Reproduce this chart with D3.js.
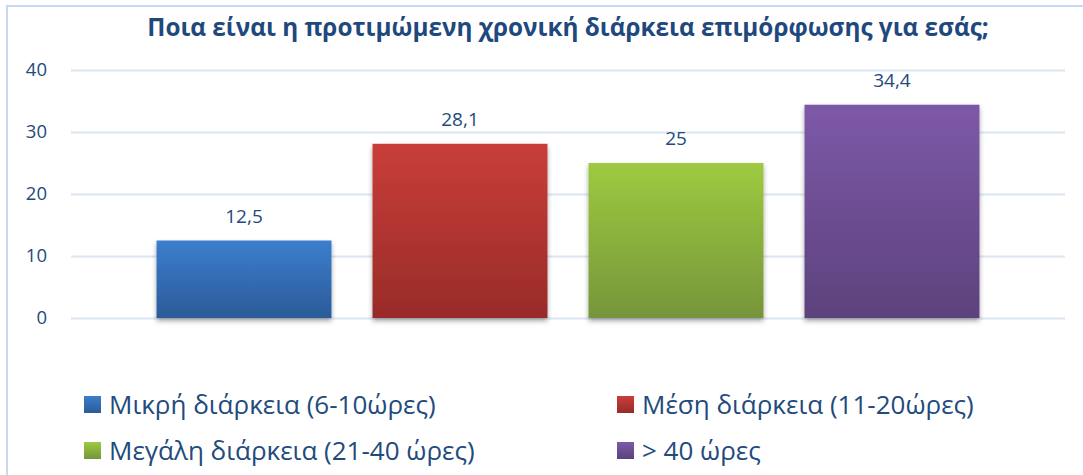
<!DOCTYPE html>
<html lang="el">
<head>
<meta charset="utf-8">
<title>bar chart</title>
<script src="https://cdn.jsdelivr.net/npm/d3@7/dist/d3.min.js"></script>
<style>
  html, body { margin: 0; padding: 0; background: #fff; }
  svg { display: block; font-family: "Open Sans", "Noto Sans", sans-serif; }
</style>
</head>
<body>
<script>
  var categories = ['Μικρή διάρκεια (6-10ώρες)', 'Μέση διάρκεια (11-20ώρες)', 'Μεγάλη διάρκεια (21-40 ώρες)', '> 40 ώρες'];
  var values = [12.5, 28.1, 25, 34.4];
  var yTicks = [0, 10, 20, 30, 40];
  var colorsTop = ['#3c7ecd', '#c93e3a', '#9dca40', '#7d59a8'];
  var colorsBottom = ['#2b5b98', '#982b28', '#76953a', '#5c427c'];
  var title = 'Ποια είναι η προτιμώμενη χρονική διάρκεια επιμόρφωσης για εσάς;';

  var width = 1083, height = 475;
  var textColor = '#234a7c';

  var svg = d3.select('body').append('svg')
    .attr('width', width)
    .attr('height', height);

  var defs = svg.append('defs');
  categories.forEach(function (c, i) {
    var g = defs.append('linearGradient')
      .attr('id', 'grad' + i)
      .attr('x1', 0).attr('y1', 0).attr('x2', 0).attr('y2', 1);
    g.append('stop').attr('offset', '0%').attr('stop-color', colorsTop[i]);
    g.append('stop').attr('offset', '100%').attr('stop-color', colorsBottom[i]);
  });
  var shadow = defs.append('filter').attr('id', 'shadow')
    .attr('x', '-10%').attr('y', '-10%').attr('width', '120%').attr('height', '130%');
  shadow.append('feDropShadow')
    .attr('dx', 0).attr('dy', 3).attr('stdDeviation', 2.5)
    .attr('flood-color', '#000').attr('flood-opacity', 0.35);

  // chart frame (only top and left edges are visible)
  svg.append('path')
    .attr('d', 'M7,' + height + ' V6 H' + width)
    .attr('fill', 'none')
    .attr('stroke', '#c6d9f0')
    .attr('stroke-width', 2);

  svg.append('text')
    .attr('x', 568)
    .attr('y', 36)
    .attr('text-anchor', 'middle')
    .attr('font-weight', 'bold')
    .attr('font-size', 24.3)
    .attr('fill', '#1f497d')
    .text(title);

  var x = d3.scaleBand()
    .domain(categories)
    .range([71, 1065])
    .paddingInner(0.19)
    .paddingOuter(0.396);

  var y = d3.scaleLinear()
    .domain([0, 40])
    .range([318, 70]);

  var yAxis = svg.append('g')
    .attr('transform', 'translate(71,0)')
    .call(d3.axisLeft(y).tickValues(yTicks).tickSize(-994).tickPadding(24));
  yAxis.select('.domain').remove();
  yAxis.selectAll('.tick line').attr('stroke', '#dce6f2').attr('stroke-width', 2);
  yAxis.selectAll('.tick text')
    .attr('fill', textColor)
    .attr('font-size', 18.5)
    .attr('font-family', '"Open Sans", "Noto Sans", sans-serif');

  svg.append('g').selectAll('rect')
    .data(values)
    .enter().append('rect')
    .attr('x', function (d, i) { return x(categories[i]); })
    .attr('y', function (d) { return y(d); })
    .attr('width', x.bandwidth())
    .attr('height', function (d) { return y(0) - y(d); })
    .attr('fill', function (d, i) { return 'url(#grad' + i + ')'; })
    .attr('filter', 'url(#shadow)');

  svg.append('g').selectAll('text')
    .data(values)
    .enter().append('text')
    .attr('x', function (d, i) { return x(categories[i]) + x.bandwidth() / 2; })
    .attr('y', function (d) { return y(d) - 18; })
    .attr('text-anchor', 'middle')
    .attr('font-size', 19)
    .attr('fill', textColor)
    .text(function (d) { return String(d).replace('.', ','); });

  // legend, two columns
  var legendPos = [[84, 405], [617, 405], [84, 451], [617, 451]];
  var legend = svg.append('g').selectAll('g')
    .data(categories)
    .enter().append('g')
    .attr('transform', function (d, i) { return 'translate(' + legendPos[i][0] + ',' + legendPos[i][1] + ')'; });
  legend.append('rect')
    .attr('x', 0).attr('y', -9)
    .attr('width', 17).attr('height', 17)
    .attr('fill', function (d, i) { return 'url(#grad' + i + ')'; });
  legend.append('text')
    .attr('x', 25)
    .attr('y', 0)
    .attr('dy', '0.35em')
    .attr('font-size', 26)
    .attr('fill', textColor)
    .text(function (d) { return d; });
</script>
</body>
</html>
